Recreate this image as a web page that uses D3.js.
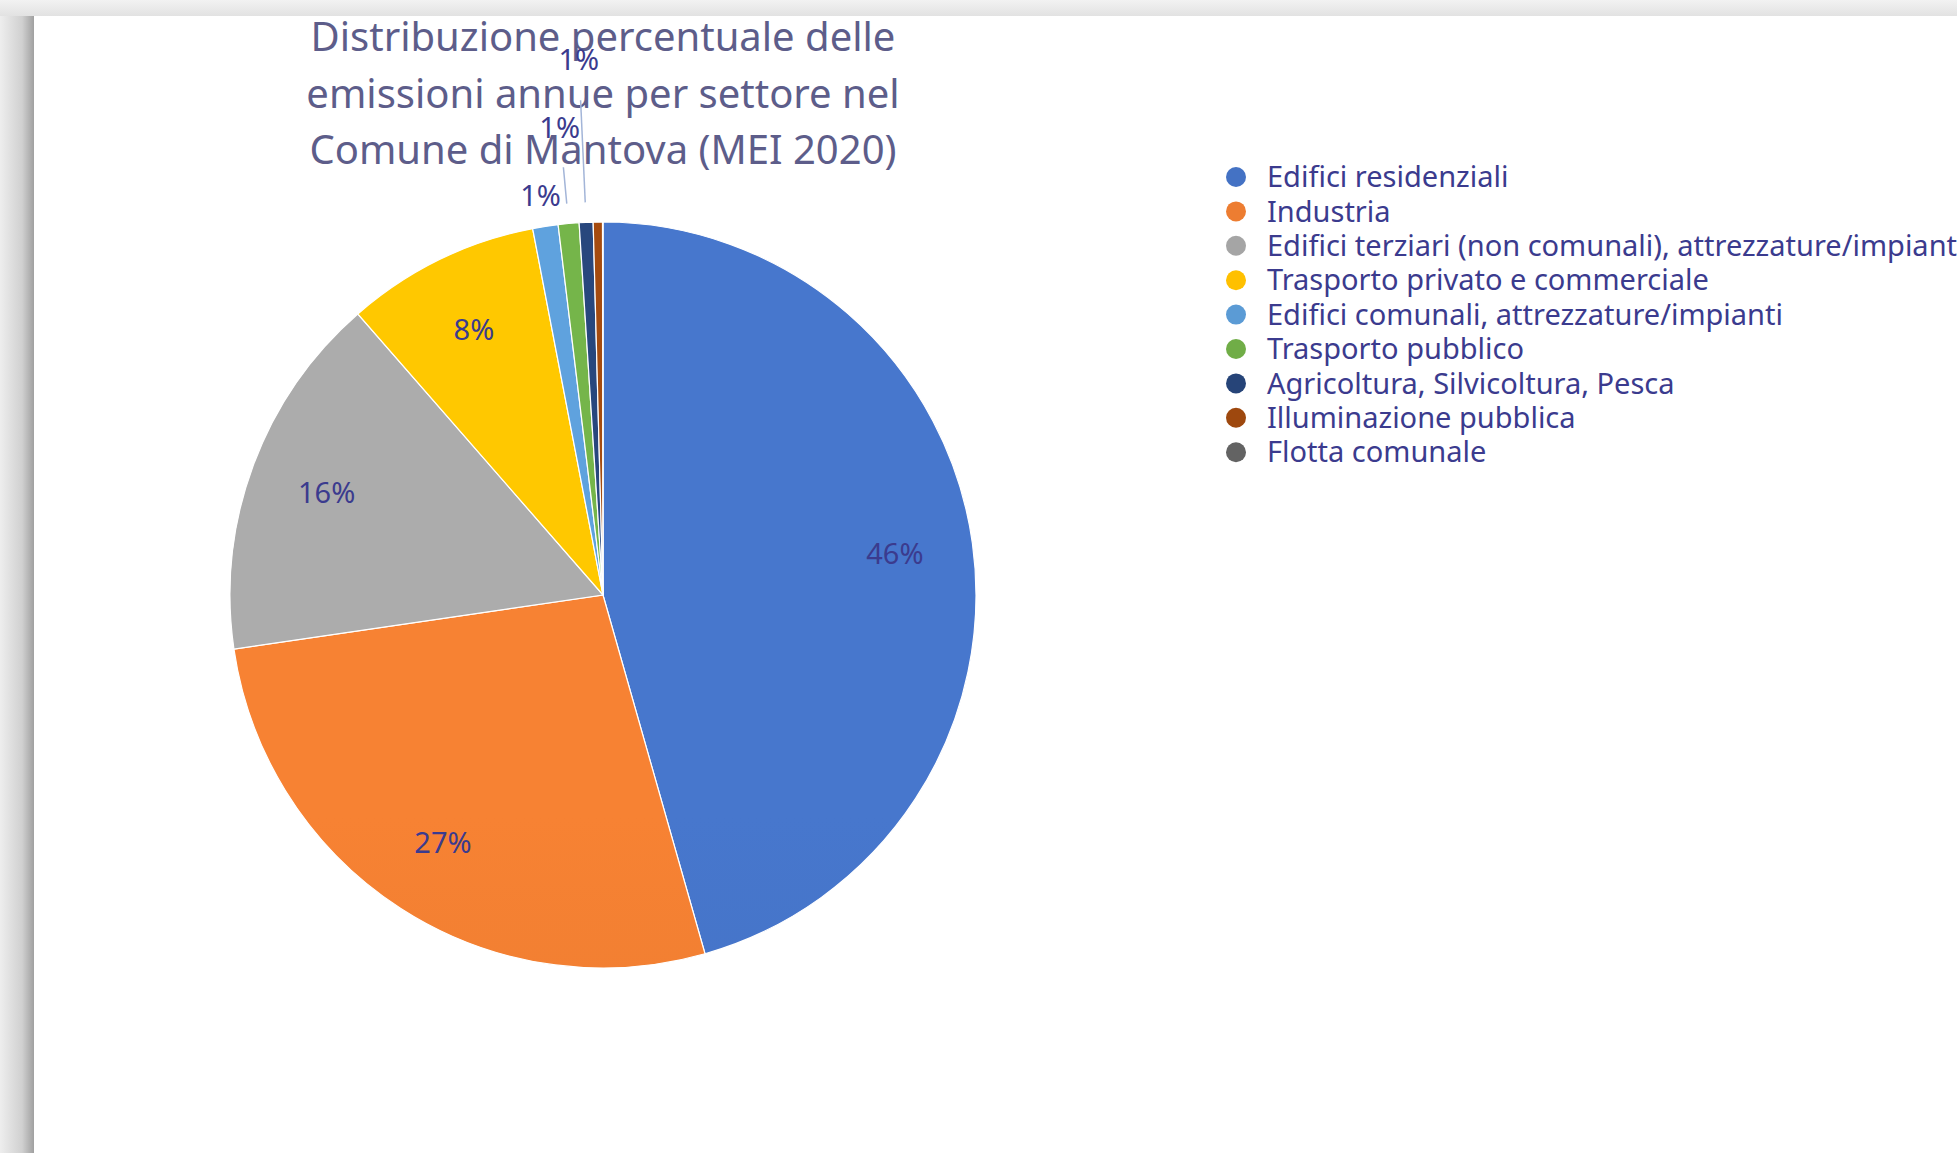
<!DOCTYPE html>
<html>
<head>
<meta charset="utf-8">
<script src="https://cdn.jsdelivr.net/npm/d3@7"></script>
<style>
  html, body { margin: 0; padding: 0; background: #ececec; overflow: hidden; }
  svg { display: block; font-family: "Noto Sans", "Open Sans", sans-serif; }
</style>
</head>
<body>
<script>
// sectors, in the order they appear (clockwise from 12 o'clock)
const sectors = [
  "Edifici residenziali",
  "Industria",
  "Edifici terziari (non comunali), attrezzature/impianti",
  "Trasporto privato e commerciale",
  "Edifici comunali, attrezzature/impianti",
  "Trasporto pubblico",
  "Agricoltura, Silvicoltura, Pesca",
  "Illuminazione pubblica",
  "Flotta comunale"
];
// share of annual emissions, %
const shares = [45.6, 27.1, 15.9, 8.4, 1.1, 0.9, 0.6, 0.4, 0.02];
const sliceColors = ["#4472c4", "#ed7d31", "#a5a5a5", "#ffc000", "#5b9bd5",
                     "#70ad47", "#264478", "#9e480e", "#636363"];
const titleLines = ["Distribuzione percentuale delle",
                    "emissioni annue per settore nel",
                    "Comune di Mantova (MEI 2020)"];

const width = 1957, height = 1153;
const cx = 603, cy = 595, R = 373;

const svg = d3.select("body").append("svg")
    .attr("width", width)
    .attr("height", height);

const defs = svg.append("defs");

// page shadow on the left edge
const shadow = defs.append("linearGradient").attr("id", "leftShadow");
shadow.append("stop").attr("offset", "0%").attr("stop-color", "#eeeeee");
shadow.append("stop").attr("offset", "65%").attr("stop-color", "#d0d0d0");
shadow.append("stop").attr("offset", "100%").attr("stop-color", "#a0a0a0");
const topShadow = defs.append("linearGradient").attr("id", "topShadow")
    .attr("x1", 0).attr("y1", 0).attr("x2", 0).attr("y2", 1);
topShadow.append("stop").attr("offset", "0%").attr("stop-color", "#f2f2f2");
topShadow.append("stop").attr("offset", "100%").attr("stop-color", "#e2e2e2");

svg.append("rect").attr("width", width).attr("height", height).attr("fill", "#ececec");
svg.append("rect").attr("width", width).attr("height", 16).attr("fill", "url(#topShadow)");
svg.append("rect").attr("x", 0).attr("y", 16).attr("width", 34).attr("height", height)
    .attr("fill", "url(#leftShadow)");
svg.append("rect").attr("x", 34).attr("y", 16).attr("width", width).attr("height", height)
    .attr("fill", "#ffffff");

// vertical shading for each slice, a bit lighter at the top
sliceColors.forEach((c, i) => {
  const g = defs.append("linearGradient")
      .attr("id", "slice" + i)
      .attr("gradientUnits", "userSpaceOnUse")
      .attr("x1", 0).attr("y1", cy - R).attr("x2", 0).attr("y2", cy + R);
  g.append("stop").attr("offset", "0%").attr("stop-color", d3.color(c).brighter(0.12));
  g.append("stop").attr("offset", "100%").attr("stop-color", d3.color(c).darker(0.15));
});

// title
svg.append("g")
  .selectAll("text")
  .data(titleLines)
  .enter().append("text")
    .attr("x", cx)
    .attr("y", (d, i) => 37 + i * 56.5)
    .attr("dy", "0.35em")
    .attr("text-anchor", "middle")
    .attr("font-size", 40)
    .attr("fill", "#5d5d8a")
    .text(d => d);

const pie = d3.pie().sort(null).value(d => d);
const arcs = pie(shares);
const arc = d3.arc().innerRadius(0).outerRadius(R);

const chart = svg.append("g").attr("transform", `translate(${cx},${cy})`);

chart.selectAll("path")
  .data(arcs)
  .enter().append("path")
    .attr("d", arc)
    .attr("fill", (d, i) => `url(#slice${i})`)
    .attr("stroke", "#ffffff")
    .attr("stroke-width", 1.2);

// labels: big slices inside, the thin ones stacked outwards with leader lines
const labelArc = d3.arc().innerRadius(R * 0.79).outerRadius(R * 0.79);
const labelled = arcs.filter(d => Math.round(d.value) >= 1);
let k = 0;
labelled.forEach(d => {
  const mid = (d.startAngle + d.endAngle) / 2;
  const sx = Math.sin(mid), sy = -Math.cos(mid);
  let x, y;
  if (d.value >= 2) {
    [x, y] = labelArc.centroid(d);
  } else {
    const r = R * (1.083 + 0.176 * k);
    x = sx * r; y = sy * r;
    if (k > 0) {
      chart.append("line")
        .attr("x1", sx * (r - 40)).attr("y1", sy * (r - 40))
        .attr("x2", sx * (R + 20)).attr("y2", sy * (R + 20))
        .attr("stroke", "#a3b5d8")
        .attr("stroke-width", 1.5);
    }
    k++;
  }
  chart.append("text")
    .attr("x", x)
    .attr("y", y)
    .attr("dy", "0.35em")
    .attr("text-anchor", "middle")
    .attr("font-size", 29)
    .attr("fill", "#3b3b8e")
    .text(Math.round(d.value) + "%");
});

// legend
const legend = svg.append("g").attr("transform", "translate(1236,177)");
const rows = legend.selectAll("g")
  .data(sectors)
  .enter().append("g")
    .attr("transform", (d, i) => `translate(0,${i * 34.4})`);
rows.append("circle")
    .attr("r", 10)
    .attr("fill", (d, i) => sliceColors[i]);
rows.append("text")
    .attr("x", 31)
    .attr("dy", "0.35em")
    .attr("font-size", 29)
    .attr("fill", "#3b3b8e")
    .text(d => d);
</script>
</body>
</html>
